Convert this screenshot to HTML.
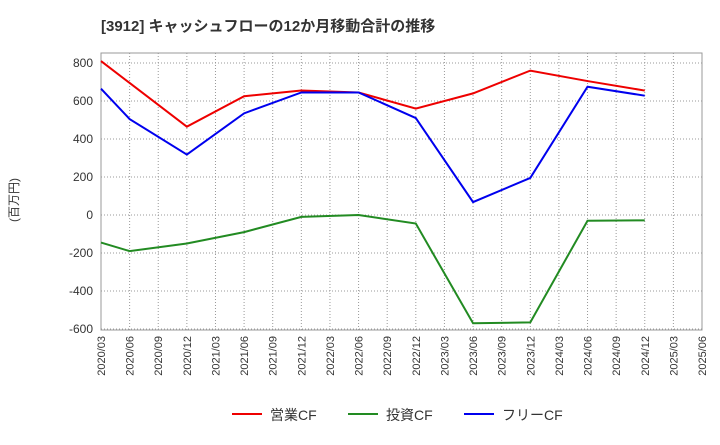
<!DOCTYPE html>
<html><head><meta charset="utf-8"><style>
body{margin:0;background:#fff;}
svg text{font-family:"Liberation Sans","Noto Sans CJK JP",sans-serif;}
</style></head><body>
<svg id="chart" width="720" height="440" xmlns="http://www.w3.org/2000/svg">
<text x="101" y="31" font-size="15" font-weight="bold" fill="#333">[3912]  キャッシュフローの12か月移動合計の推移</text>
<text x="18" y="200" font-size="12" fill="#333" transform="rotate(-90 18 200)" text-anchor="middle">(百万円)</text>
<g id="grid"></g><g id="axes"></g><g id="series"></g>
<g>
<line x1="232" y1="414" x2="262" y2="414" stroke="#e00" stroke-width="2"/>
<text x="270" y="420" font-size="14" fill="#333">営業CF</text>
<line x1="348" y1="414" x2="378" y2="414" stroke="#228b22" stroke-width="2"/>
<text x="386" y="420" font-size="14" fill="#333">投資CF</text>
<line x1="464" y1="414" x2="494" y2="414" stroke="#00e" stroke-width="2"/>
<text x="502" y="420" font-size="14" fill="#333">フリーCF</text>
</g>
</svg>
<script>
const xLabels=["2020/03","2020/06","2020/09","2020/12","2021/03","2021/06","2021/09","2021/12","2022/03","2022/06","2022/09","2022/12","2023/03","2023/06","2023/09","2023/12","2024/03","2024/06","2024/09","2024/12","2025/03","2025/06"];
const yTicks=[-600,-400,-200,0,200,400,600,800];
const periods=["2020/03","2020/06","2020/12","2021/06","2021/12","2022/06","2022/12","2023/06","2023/12","2024/06","2024/12"];
const operatingCF=[810,695,465,625,655,645,560,640,760,705,655];
const investingCF=[-145,-190,-150,-90,-10,0,-45,-570,-565,-30,-28];
const freeCF=[665,505,318,535,645,645,510,68,195,675,628];
const L=101,R=702,T=53,B=330;
const ns="http://www.w3.org/2000/svg";
function x(lbl){return L+xLabels.indexOf(lbl)*(R-L)/(xLabels.length-1);}
function y(v){return 215-v*0.19;}
function mk(t,a,p){const e=document.createElementNS(ns,t);for(const k in a)e.setAttribute(k,a[k]);p.appendChild(e);return e;}
const g=document.getElementById('grid'),ax=document.getElementById('axes'),s=document.getElementById('series');
mk('rect',{x:L,y:T,width:R-L,height:B-T,fill:'#fff',stroke:'#999'},g);
xLabels.forEach(l=>{const xx=x(l);
 const ln=mk('line',{x1:xx,y1:T,x2:xx,y2:B,stroke:'#999','stroke-dasharray':'1,2'},g);
 
 const t=mk('text',{x:xx+4,y:B+6,'font-size':11,fill:'#333','text-anchor':'end',transform:`rotate(-90 ${xx+4} ${B+6})`},ax);
 t.textContent=l;});
yTicks.forEach(v=>{const yy=y(v);
 const ln=mk('line',{x1:L,y1:yy,x2:R,y2:yy,stroke:'#999','stroke-dasharray':'1,2'},g);
 
 const t=mk('text',{x:L-8,y:yy+4,'font-size':12,fill:'#333','text-anchor':'end'},ax);
 t.textContent=v;});
function line(vals,color,name){const pts=periods.map((p,i)=>x(p)+','+y(vals[i])).join(' ');
 const e=mk('polyline',{points:pts,fill:'none',stroke:color,'stroke-width':2},s);
 }
line(investingCF,'#228b22','investing-cf-line');
line(operatingCF,'#e00','operating-cf-line');
line(freeCF,'#00e','free-cf-line');
</script>
</body></html>
